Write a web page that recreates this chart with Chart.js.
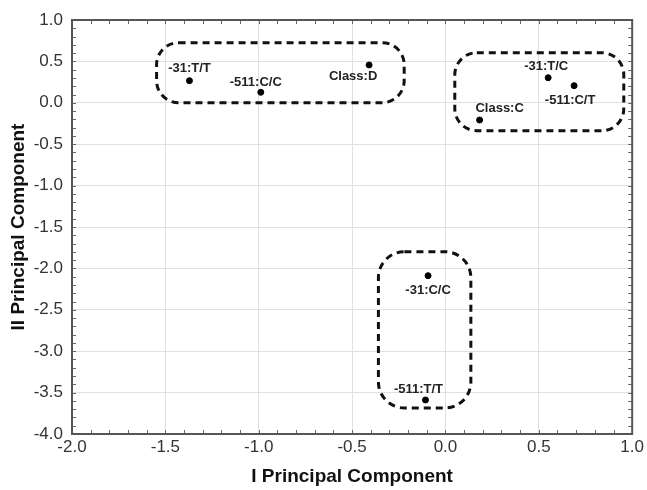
<!DOCTYPE html>
<html><head><meta charset="utf-8">
<script src="https://cdn.jsdelivr.net/npm/chart.js@4.4.0/dist/chart.umd.min.js"></script>
<style>html,body{margin:0;padding:0;background:#fff}#wrap{width:647px;height:490px}</style>
</head><body><div id="wrap"><canvas id="c" width="647" height="490"></canvas></div>
<script>
const pointLabels = ["-31:T/T", "-511:C/C", "Class:D", "-31:T/C", "-511:C/T", "Class:C", "-31:C/C", "-511:T/T"];
const pc1 = [-1.371, -0.989, -0.409, 0.550, 0.689, 0.183, -0.093, -0.107];
const pc2 = [0.267, 0.127, 0.457, 0.303, 0.207, -0.208, -2.088, -3.589];
const xTicks = [-2.0, -1.5, -1.0, -0.5, 0.0, 0.5, 1.0];
const yTicks = [1.0, 0.5, 0.0, -0.5, -1.0, -1.5, -2.0, -2.5, -3.0, -3.5, -4.0];
// group boxes (data units): xMin, xMax, yMin, yMax
const boxXMin = [-1.547, 0.050, -0.359];
const boxXMax = [-0.221, 0.955, 0.136];
const boxYMin = [0.001, -0.337, -3.686];
const boxYMax = [0.726, 0.605, -1.798];

// label pixel offsets (style)
const labelOffsets = [[0,-12],[-5,-10],[-16,11],[-2,-11],[-4,15],[20,-12],[0,15],[-7,-11]];
const boxRadius = [22, 22, 26];

const points = pc1.map((x,i)=>({x:x, y:pc2[i]}));
const FAM = '"Liberation Sans", Arial, sans-serif';

const decor = {
  id:'decor',
  beforeDatasetsDraw(chart){
    const ctx=chart.ctx, xs=chart.scales.x, ys=chart.scales.y, a=chart.chartArea;
    ctx.save();
    ctx.strokeStyle='#666'; ctx.lineWidth=1;
    for(let v=-20; v<=10; v++){
      const px=Math.round(xs.getPixelForValue(v/10))+0.5;
      ctx.beginPath(); ctx.moveTo(px,a.bottom); ctx.lineTo(px,a.bottom-4); ctx.stroke();
      ctx.beginPath(); ctx.moveTo(px,a.top); ctx.lineTo(px,a.top+4); ctx.stroke();
    }
    for(let v=-40; v<=10; v++){
      const py=Math.round(ys.getPixelForValue(v/10))+0.5;
      ctx.beginPath(); ctx.moveTo(a.left,py); ctx.lineTo(a.left+4,py); ctx.stroke();
      ctx.beginPath(); ctx.moveTo(a.right,py); ctx.lineTo(a.right-4,py); ctx.stroke();
    }
    ctx.strokeStyle='#555'; ctx.lineWidth=2;
    ctx.strokeRect(a.left, a.top, a.right-a.left, a.bottom-a.top);
    ctx.strokeStyle='#111'; ctx.lineWidth=3; ctx.setLineDash([7,5]);
    for(let i=0;i<boxXMin.length;i++){
      const x0=xs.getPixelForValue(boxXMin[i]), x1=xs.getPixelForValue(boxXMax[i]);
      const y0=ys.getPixelForValue(boxYMax[i]), y1=ys.getPixelForValue(boxYMin[i]);
      ctx.beginPath(); ctx.roundRect(x0,y0,x1-x0,y1-y0,boxRadius[i]); ctx.stroke();
    }
    ctx.restore();
  },
  afterDatasetsDraw(chart){
    const ctx=chart.ctx, meta=chart.getDatasetMeta(0);
    ctx.save();
    ctx.font='bold 13px ' + FAM;
    ctx.fillStyle='#222'; ctx.textAlign='center'; ctx.textBaseline='middle';
    meta.data.forEach((el,i)=>{
      ctx.fillText(pointLabels[i], el.x+labelOffsets[i][0], el.y+labelOffsets[i][1]);
    });
    ctx.restore();
  }
};

new Chart(document.getElementById('c'), {
  type:'scatter',
  data:{datasets:[{data:points, backgroundColor:'#000', borderColor:'#000', pointRadius:3, pointHoverRadius:3}]},
  options:{
    responsive:false, animation:false, devicePixelRatio:1,
    layout:{padding:{top:20,right:12,left:0,bottom:0}},
    plugins:{legend:{display:false}, tooltip:{enabled:false}},
    scales:{
      x:{type:'linear', min:-2, max:1,
        afterBuildTicks(s){ s.ticks = xTicks.map(v=>({value:v})); },
        afterFit(s){ s.height = 56; },
        ticks:{color:'#333', font:{size:17, family:FAM}, padding:3,
          callback:v=>Number(v).toFixed(1), maxRotation:0, autoSkip:false},
        grid:{color:'#e0e0e0', drawTicks:false, lineWidth:1},
        border:{display:false},
        title:{display:true, text:'I Principal Component', color:'#111',
          font:{size:19, weight:'bold', family:FAM}, padding:{top:2,bottom:2}}
      },
      y:{type:'linear', min:-4, max:1,
        afterBuildTicks(s){ s.ticks = yTicks.map(v=>({value:v})); },
        afterFit(s){ s.width = 72; },
        ticks:{color:'#333', font:{size:17, family:FAM}, padding:9,
          callback:v=>Number(v).toFixed(1), autoSkip:false},
        grid:{color:'#e0e0e0', drawTicks:false, lineWidth:1},
        border:{display:false},
        title:{display:true, text:'II Principal Component', color:'#111',
          font:{size:19, weight:'bold', family:FAM}, padding:{top:7,bottom:7}}
      }
    }
  },
  plugins:[decor]
});
</script></body></html>
